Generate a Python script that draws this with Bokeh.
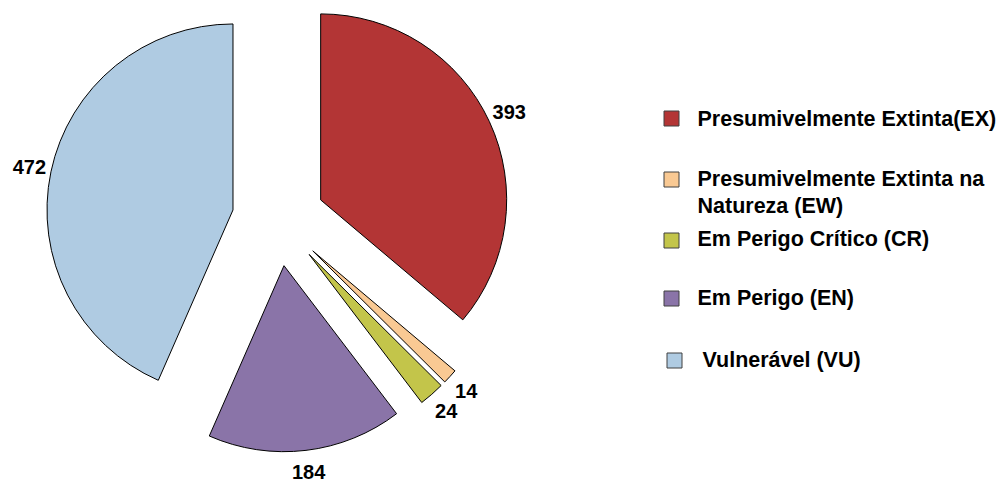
import math
from bokeh.plotting import figure
from bokeh.models import Range1d, ColumnDataSource
from bokeh.core.properties import value
from bokeh.embed import file_html
from bokeh.resources import INLINE

# ---- data ----
codes = ["EX", "EW", "CR", "EN", "VU"]
counts = [393, 14, 24, 184, 472]
labels = [
    "Presumivelmente Extinta(EX)",
    "Presumivelmente Extinta na\nNatureza (EW)",
    "Em Perigo Crítico (CR)",
    "Em Perigo (EN)",
    "Vulnerável (VU)",
]
colors = ["#B33535", "#F9C993", "#C3C54A", "#8A74A8", "#AFCBE2"]

# ---- layout (page pixel coordinates, y measured from top) ----
W, H = 1000, 482
def Y(yref):
    return 482 - yref

cx, cy = 278, Y(219)
R = 186
explode = 46.5
label_off = R + 22
font = value("Liberation Sans")

p = figure(width=W, height=H, output_backend="svg", toolbar_location=None,
           x_range=Range1d(0, W), y_range=Range1d(482 - H, 482),
           min_border=0, outline_line_color=None)
p.axis.visible = False
p.grid.visible = False
p.background_fill_color = "white"
p.border_fill_color = "white"

total = sum(counts)
cum = 0
xs, ys, sa, ea, lx, ly, lt = [], [], [], [], [], [], []
for c in counts:
    a0 = math.pi / 2 - 2 * math.pi * cum / total
    cum += c
    a1 = math.pi / 2 - 2 * math.pi * cum / total
    mid = (a0 + a1) / 2
    ox = cx + explode * math.cos(mid)
    oy = cy + explode * math.sin(mid)
    xs.append(ox); ys.append(oy)
    sa.append(a1); ea.append(a0)
    lx.append(ox + label_off * math.cos(mid))
    ly.append(oy + label_off * math.sin(mid))
    lt.append(str(c))

src = ColumnDataSource(dict(x=xs, y=ys, s=sa, e=ea, color=colors))
p.wedge(x="x", y="y", radius=R, start_angle="s", end_angle="e",
        direction="anticlock", fill_color="color", line_color="black",
        line_width=1, source=src)

p.text(x=lx, y=ly, text=lt, text_font=font, text_font_style="bold",
       text_font_size="20px", text_align="center", text_baseline="middle",
       text_color="black")

# ---- legend ----
sq_x = [671, 671, 671, 671, 674]
sq_y = [118, 179, 240, 298, 360]
tx_x = [697, 697, 697, 697, 702]
tx_base = [118, 178, 238, 297, 359]
line_h = 27

p.rect(x=sq_x, y=[Y(v) for v in sq_y], width=15, height=15,
       fill_color=colors, line_color="#404040", line_width=1)

tx, ty, tt = [], [], []
for i, lab in enumerate(labels):
    for j, line in enumerate(lab.split("\n")):
        tx.append(tx_x[i])
        ty.append(Y(tx_base[i] + j * line_h))
        tt.append(line)
p.text(x=tx, y=ty, text=tt, text_font=font, text_font_style="bold",
       text_font_size="21.5px", text_align="left", text_baseline="alphabetic",
       text_color="black")

open("out.html", "w").write(file_html(p, INLINE))
